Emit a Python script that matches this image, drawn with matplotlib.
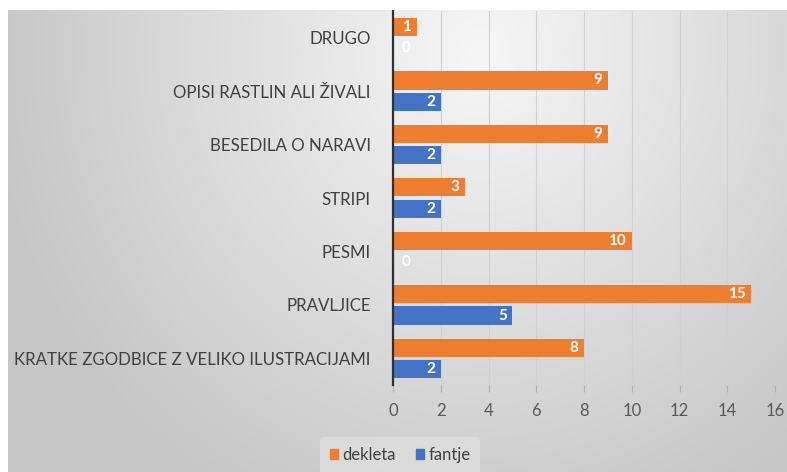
import matplotlib
matplotlib.use("Agg")
import matplotlib.pyplot as plt
import numpy as np
from matplotlib.patches import Patch

categories = ["KRATKE ZGODBICE Z VELIKO ILUSTRACIJAMI", "PRAVLJICE", "PESMI",
              "STRIPI", "BESEDILA O NARAVI", "OPISI RASTLIN ALI ŽIVALI", "DRUGO"]
dekleta = [8, 15, 10, 3, 9, 9, 1]
fantje = [2, 5, 0, 2, 2, 2, 0]
xticks = [0, 2, 4, 6, 8, 10, 12, 14, 16]

ORANGE = "#ED7D31"
BLUE = "#4472C4"
plt.rcParams['font.family'] = ['Lato', 'DejaVu Sans']

W, H = 787, 472
fig = plt.figure(figsize=(W / 100, H / 100), dpi=100)
fig.patch.set_facecolor("white")

# gradient background
bg = fig.add_axes([8 / W, 0, 1 - 8 / W, 1 - 10 / H])
bg.set_axis_off()
yy, xx = np.mgrid[0:462, 0:779]
d = np.sqrt(((xx - 470) / 500.0) ** 2 + ((yy - 40) / 520.0) ** 2)
val = np.clip(0.965 - 0.19 * d, 0.78, 1.0)
img = np.dstack([val, val, val])
bg.imshow(img, aspect="auto", interpolation="bilinear")
bg.set_zorder(0)

ax = fig.add_axes([393 / W, 1 - 385 / H, (775 - 393) / W, (385 - 11) / H])
ax.set_zorder(1)
ax.patch.set_alpha(0)

y = np.arange(len(categories))
h = 0.34
off = 0.2
b1 = ax.barh(y + off, dekleta, height=h, color=ORANGE, zorder=3)
b2 = ax.barh(y - off, fantje, height=h, color=BLUE, zorder=3)

for bars, vals in ((b1, dekleta), (b2, fantje)):
    for bar, v in zip(bars, vals):
        cy = bar.get_y() + bar.get_height() / 2
        if v == 0:
            ax.annotate(str(v), (0, cy), xytext=(6, 0), textcoords="offset points",
                        ha="left", va="center", color="white", fontsize=11, fontweight="bold", zorder=4)
        else:
            ax.annotate(str(v), (v, cy), xytext=(-4, 0), textcoords="offset points",
                        ha="right", va="center", color="white", fontsize=11, fontweight="bold", zorder=4)

ax.set_xlim(0, 16)
ax.set_ylim(-0.5, len(categories) - 0.5)
ax.set_xticks(xticks)
ax.set_xticklabels([str(t) for t in xticks])
ax.set_yticks(y)
ax.set_yticklabels(categories)
ax.xaxis.grid(True, color="#d0d0d0", linewidth=0.8, zorder=1)
ax.set_axisbelow(True)
for s in ("top", "right", "bottom"):
    ax.spines[s].set_visible(False)
ax.spines["left"].set_color("#303030")
ax.spines["left"].set_linewidth(1.6)
ax.spines["left"].set_zorder(5)
ax.tick_params(axis="y", length=0, pad=16, labelsize=12.2, labelcolor="#404040")
ax.tick_params(axis="x", length=5, color="#b0b0b0", pad=8, labelsize=12, labelcolor="#595959")

handles = [Patch(color=ORANGE, label="dekleta"), Patch(color=BLUE, label="fantje")]
leg = fig.legend(handles=handles, loc="center", bbox_to_anchor=(400 / W, 1 - 455 / H), ncol=2,
                 frameon=True, fontsize=12, handlelength=0.5, handleheight=0.5,
                 handletextpad=0.25, columnspacing=1.2, borderpad=0.6)
leg.get_frame().set_facecolor("#e4e4e4")
leg.get_frame().set_edgecolor("none")
leg.get_frame().set_alpha(0.6)
for t in leg.get_texts():
    t.set_color("#404040")

fig.savefig("out.png", dpi=100)
